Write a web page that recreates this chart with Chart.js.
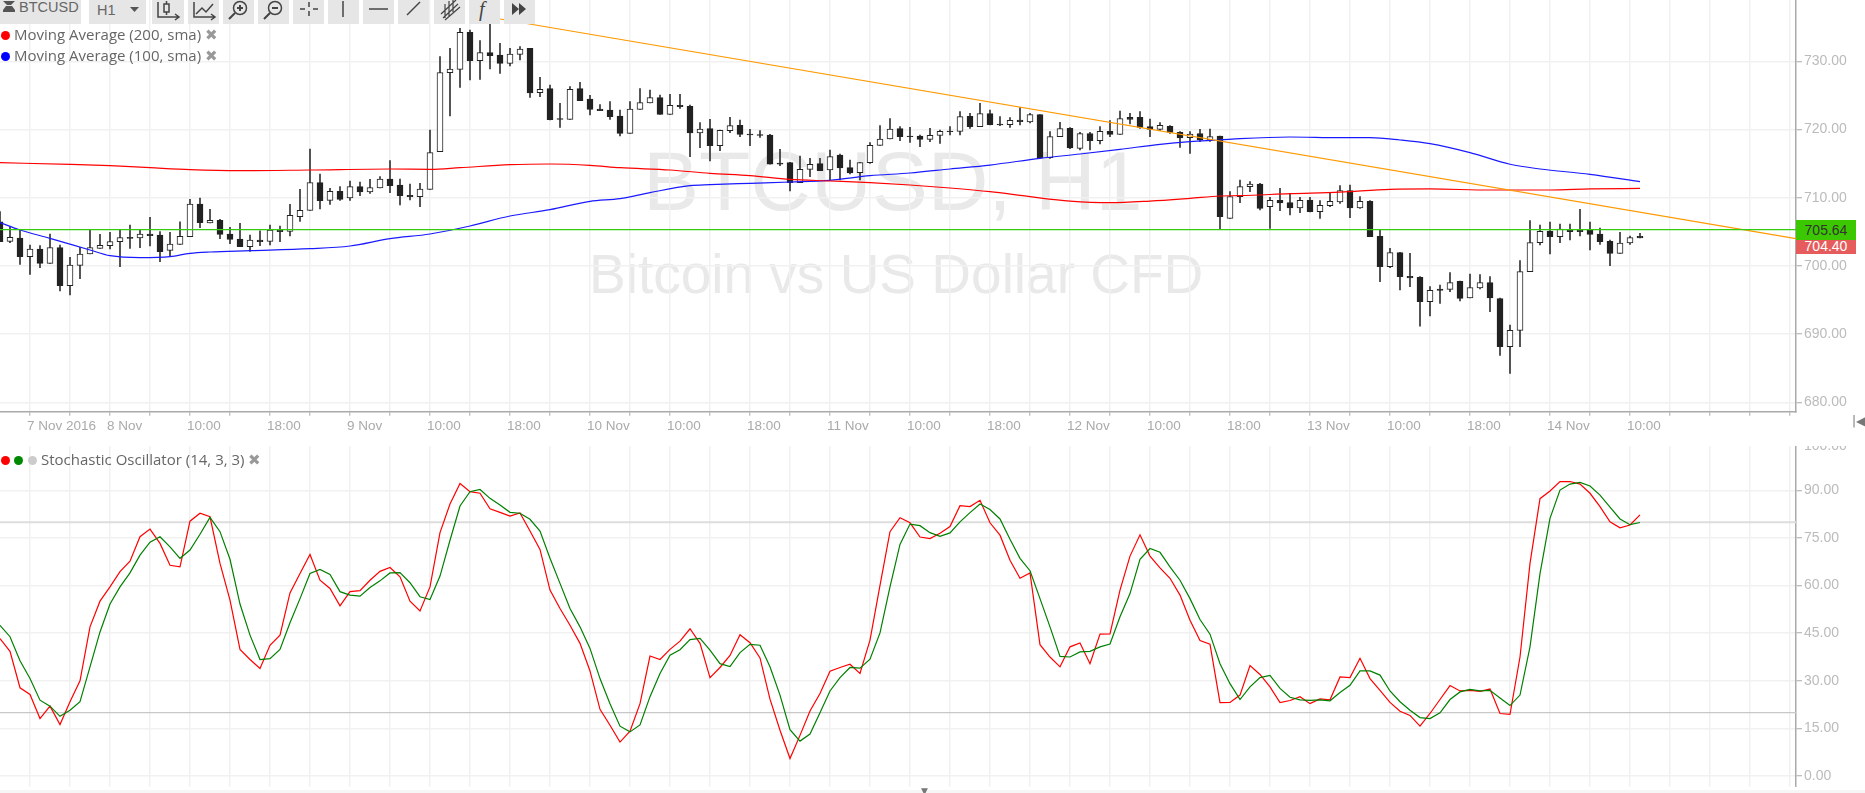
<!DOCTYPE html>
<html>
<head>
<meta charset="utf-8">
<title>BTCUSD, H1</title>
<script src="https://cdn.jsdelivr.net/npm/chart.js@4/dist/chart.umd.min.js"></script>
<style>
  html, body { margin: 0; padding: 0; background: #fff; overflow: hidden; width: 1865px; height: 793px; }
  canvas { position: absolute; left: 0; z-index: 1; }
  #priceChart { top: 0; }
  #stochChart { top: 446px; }
  .abs { position: absolute; white-space: nowrap; }
  .mark { font-family: "Liberation Sans", sans-serif; color: #e9e9e9; z-index: 0; line-height: 1; }
  .tb { position: absolute; top: 0; height: 24px; background: #e6e6e6; z-index: 3; color: #555; }
  .tb svg { position: absolute; left: 0; top: 0; }
  .leg { font-family: "Open Sans", sans-serif; font-size: 15px; color: #666; z-index: 3; line-height: 18px; }
  .dot { position: absolute; width: 9px; height: 9px; border-radius: 50%; z-index: 3; }
  .x { font-family: "DejaVu Sans", sans-serif; font-weight: bold; font-size: 15px; color: #999; z-index: 3; line-height: 14px; }
  .tag { left: 1796px; width: 60px; font-family: "Liberation Sans", sans-serif; font-size: 14px; text-align: center; z-index: 3; }
</style>
</head>
<body>

<div class="abs mark" style="left:643px;top:139px;font-size:84px">BTCUSD, H1</div>
<div class="abs mark" style="left:589px;top:247px;font-size:55px">Bitcoin vs US Dollar CFD</div>

<div class="tb" style="left:0;width:81px"><span class="abs" style="left:19px;top:-1px;font:14.5px 'Liberation Sans';color:#666">BTCUSD</span>
  <svg width="19" height="24"><path d="M3 1h12l-4 4h-4zM3 10h12v2H3zM6 6h6l3 4H3z" fill="#555"/></svg></div>
<div class="tb" style="left:89px;width:57px"><span class="abs" style="left:8px;top:2px;font:14.5px 'Liberation Sans';color:#666">H1</span>
  <svg width="57" height="24"><path d="M41 7h9l-4.5 5z" fill="#555"/></svg></div>
<div class="tb" style="left:152px;width:32px"><svg width="32" height="24" fill="none" stroke="#444" stroke-width="1.5"><path d="M6 2v15h20M23 14l4 3-4 3"/><rect x="12" y="4" width="5" height="8"/><path d="M14.500 1v3M14.500 12v3"/></svg></div>
<div class="tb" style="left:188px;width:31px"><svg width="31" height="24" fill="none" stroke="#444" stroke-width="1.5"><path d="M6 2v15h20M23 14l4 3-4 3M8 14l6-6 4 4 7-8"/></svg></div>
<div class="tb" style="left:223px;width:31px"><svg width="31" height="24" fill="none" stroke="#444" stroke-width="1.5"><circle cx="17" cy="8" r="6.500"/><path d="M12 13l-6 6M14 8h6M17 5v6" stroke-width="2"/></svg></div>
<div class="tb" style="left:258px;width:31px"><svg width="31" height="24" fill="none" stroke="#444" stroke-width="1.5"><circle cx="17" cy="8" r="6.500"/><path d="M12 13l-6 6M14 8h6" stroke-width="2"/></svg></div>
<div class="tb" style="left:293px;width:31px"><svg width="31" height="24" stroke="#444" stroke-width="1.500"><path d="M16 2v5M16 11v5M7 9h5M20 9h5"/></svg></div>
<div class="tb" style="left:328px;width:31px"><svg width="31" height="24" stroke="#444" stroke-width="1.500"><path d="M15 1v16"/></svg></div>
<div class="tb" style="left:363px;width:31px"><svg width="31" height="24" stroke="#444" stroke-width="1.500"><path d="M6 9h19"/></svg></div>
<div class="tb" style="left:398px;width:31px"><svg width="31" height="24" stroke="#444" stroke-width="1.500"><path d="M9 15L22 2"/></svg></div>
<div class="tb" style="left:434px;width:31px"><svg width="31" height="24" fill="none" stroke="#444" stroke-width="1.200"><path d="M7 14L22 0M9 18L24 4M11 20L26 7M11 4v14M15 1v15M19 0v12"/></svg></div>
<div class="tb" style="left:469px;width:31px"><span class="abs" style="left:10px;top:-2px;font:italic 20px 'Liberation Serif';color:#444">f</span></div>
<div class="tb" style="left:504px;width:31px"><svg width="31" height="24" fill="#444"><path d="M8 3l7 6-7 6zM15 3l7 6-7 6z"/></svg></div>

<span class="dot" style="left:1px;top:31px;background:#f00"></span>
<span class="abs leg" style="left:14px;top:25px">Moving Average (200, sma)</span>
<span class="abs x" style="left:205px;top:28px">✖</span>
<span class="dot" style="left:1px;top:52px;background:#00f"></span>
<span class="abs leg" style="left:14px;top:46px">Moving Average (100, sma)</span>
<span class="abs x" style="left:205px;top:49px">✖</span>

<span class="dot" style="left:1px;top:456px;background:#f00"></span>
<span class="dot" style="left:14px;top:456px;background:#080"></span>
<span class="dot" style="left:28px;top:456px;background:#ccc"></span>
<span class="abs leg" style="left:41px;top:450px">Stochastic Oscillator (14, 3, 3)</span>
<span class="abs x" style="left:248px;top:453px">✖</span>

<div class="abs tag" style="top:220px;height:20px;line-height:21px;background:#3cc800;color:#333">705.64</div>
<div class="abs tag" style="top:240px;height:14px;line-height:13px;background:#e65c5c;color:#fff;overflow:hidden">704.40</div>

<div class="abs" style="left:1804px;top:446px;height:5px;overflow:hidden;font:14px/1 'Liberation Sans';color:#bbb;z-index:3"><span style="position:relative;top:-8px">100.00</span></div>
<div class="abs" style="left:1852px;top:414px;font:12px/14px 'DejaVu Sans';color:#777;z-index:3">|◀</div>
<div class="abs" style="left:0;top:790px;width:1865px;height:3px;background:#f6f6f6;z-index:2"></div>
<div class="abs" style="left:921px;top:787px;font:9px/9px 'DejaVu Sans';color:#777;z-index:3">▼</div>

<canvas id="priceChart" width="1865" height="432"></canvas>
<canvas id="stochChart" width="1865" height="341"></canvas>

<script>
// one candle per entry
const high = [707.95,705.75,705.26,703.06,702.97,704.68,703.06,701.25,702.72,705.26,
  704.63,704.92,705.26,706.0,705.26,707.12,705.02,704.92,706.48,709.76,
  709.95,708.29,706.83,705.65,706.24,704.53,705.16,706.0,705.85,709.03,
  711.23,717.14,713.47,711.37,711.62,712.45,712.3,712.69,713.08,715.43,
  712.74,712.01,712.11,719.93,730.68,731.9,734.84,734.59,733.03,735.47,
  732.64,731.9,732.15,731.9,727.65,726.53,723.84,726.28,726.92,725.01,
  723.64,724.08,722.86,724.08,725.99,725.79,725.06,725.16,725.16,723.59,
  721.0,721.49,719.93,721.78,721.39,720.02,719.83,719.29,717.09,715.19,
  716.11,715.77,715.77,717.0,716.41,715.53,715.19,718.07,720.56,721.59,
  720.42,720.32,719.19,720.17,719.93,720.42,722.62,722.37,723.84,722.86,
  721.88,721.74,723.2,722.37,722.18,719.68,721.05,720.27,719.58,719.58,
  720.42,721.3,722.71,722.37,722.62,721.54,721.0,720.56,719.68,719.68,
  720.02,720.07,719.05,710.88,712.59,712.35,712.11,710.05,711.37,710.64,
  710.05,710.05,709.56,710.64,711.76,711.86,710.15,709.56,705.26,702.57,
  701.99,701.84,698.42,696.95,697.2,699.01,697.78,698.81,698.71,698.42,
  695.29,691.33,700.77,706.63,706.0,706.44,706.14,706.14,708.29,706.44,
  705.56,703.8,704.92,704.38,704.77];
const low = [703.55,703.4,700.23,698.76,699.74,700.38,696.32,695.73,698.13,701.74,
  702.57,702.48,699.89,702.57,702.67,702.92,700.62,701.45,703.16,704.29,
  705.6,706.29,704.0,703.26,702.82,702.13,702.97,703.06,703.55,704.38,
  706.53,708.15,708.34,709.03,709.61,709.61,710.3,710.64,711.42,710.74,
  708.93,709.66,708.68,711.23,716.75,721.98,726.18,727.26,727.36,728.87,
  728.24,729.31,730.19,724.72,724.81,721.39,720.32,721.49,724.23,722.13,
  722.76,721.49,719.05,719.44,722.96,723.89,722.22,722.22,723.1,716.02,
  717.34,715.38,716.9,719.54,718.95,717.63,718.85,714.9,714.7,710.98,
  712.2,713.08,713.96,712.59,712.59,713.47,712.59,715.04,717.68,718.61,
  718.36,718.12,717.48,718.22,717.97,719.19,719.19,720.17,720.42,720.66,
  720.56,720.32,720.66,720.95,715.77,715.77,718.95,717.19,717.0,717.0,
  717.87,718.95,719.29,720.81,720.17,718.95,719.83,719.44,717.38,716.5,
  718.22,718.27,705.36,706.97,709.27,710.88,708.2,705.51,708.1,707.46,
  707.8,707.9,706.97,708.68,709.17,707.07,708.44,704.29,697.69,699.74,
  696.46,696.95,691.18,692.65,694.51,696.22,694.85,695.29,696.61,693.29,
  686.88,684.24,688.15,699.15,703.06,701.74,703.41,703.8,704.38,702.33,
  703.16,700.03,701.84,703.16,704.09];
const open = [706.48,703.6,704.09,701.35,702.48,700.38,702.67,697.1,700.08,701.74,
  702.57,702.97,703.55,704.19,704.09,704.68,704.53,702.28,703.16,704.29,
  709.07,706.29,706.68,704.68,703.94,702.82,703.8,703.6,705.26,705.07,
  707.22,708.15,712.2,709.61,710.93,709.95,711.62,710.83,711.42,712.74,
  711.86,710.35,710.15,711.23,716.75,728.33,728.82,734.25,730.09,731.27,
  730.92,729.7,731.02,731.9,725.4,725.99,721.59,721.49,725.99,724.47,
  723.01,722.86,721.98,719.44,722.96,723.89,724.67,722.22,723.54,723.4,
  719.49,720.12,717.63,719.83,720.61,719.34,719.24,719.19,715.09,715.14,
  712.2,714.16,714.99,714.06,716.26,714.4,713.67,715.14,717.68,718.61,
  720.12,719.05,719.05,718.56,719.14,719.78,719.73,721.93,720.42,722.32,
  720.81,720.71,721.39,721.1,722.18,715.87,718.95,720.17,717.24,719.39,
  718.36,719.73,719.29,721.78,721.78,720.42,720.02,720.46,719.58,718.8,
  719.39,718.46,719.05,706.97,710.15,711.62,712.01,708.68,709.61,709.27,
  708.49,709.66,707.95,708.83,709.37,711.03,708.49,709.47,704.33,699.89,
  701.94,698.47,698.32,694.75,696.61,696.56,697.73,695.29,696.76,697.54,
  695.19,688.15,690.55,699.15,703.41,705.12,704.29,705.31,705.21,705.26,
  704.68,703.6,701.84,703.36,704.33];
const close = [703.55,704.19,701.35,702.48,700.38,702.67,697.1,700.13,701.74,702.67,
  703.01,703.55,704.14,704.04,704.68,704.43,702.08,703.21,704.33,709.07,
  706.34,706.68,704.63,703.9,702.82,703.8,703.55,705.26,705.02,707.41,
  708.15,712.2,709.56,710.93,709.76,711.62,710.83,711.47,712.74,711.76,
  710.3,710.15,711.28,716.6,728.33,728.87,734.25,730.09,731.27,730.83,
  729.7,731.07,731.8,725.35,725.89,721.44,721.49,725.89,724.23,722.96,
  722.76,721.88,719.44,723.01,723.93,724.67,722.22,723.54,723.35,719.49,
  720.07,717.63,719.88,720.56,719.29,719.19,719.14,714.9,714.9,712.2,
  714.16,714.9,713.96,716.02,714.35,713.62,715.14,717.68,718.61,720.07,
  718.95,718.95,718.56,719.14,719.73,719.68,721.88,720.42,722.32,720.71,
  720.66,721.34,721.15,722.18,715.87,718.95,720.12,717.29,719.39,718.36,
  719.73,719.29,721.59,721.49,720.32,720.02,720.61,719.58,718.75,719.34,
  718.46,718.95,707.22,710.15,711.62,712.01,708.44,709.61,709.22,708.49,
  709.61,707.95,708.88,709.47,711.03,708.49,709.47,704.29,699.89,701.94,
  698.42,698.22,694.75,696.42,696.42,697.54,695.24,696.81,697.54,695.29,
  688.15,690.55,699.15,703.41,705.07,704.29,705.41,705.02,705.02,704.63,
  703.55,701.84,703.36,704.14,704.09];

const ma200Index = [0,7,11,15,19,24,31,39,43,46,51,55,59,62,67,71,75,79,83,87,91,95,99,103,107,111,115,119,122,124,129,134,139,143,149,155,159,164];
const ma200 = [715.13,714.89,714.7,714.4,714.11,713.96,714.06,714.21,714.16,714.4,714.84,714.94,714.75,714.4,714.06,713.57,713.23,712.69,712.45,712.2,711.86,711.42,710.88,710.15,709.51,709.27,709.51,709.91,710.25,710.3,710.59,710.83,711.23,711.28,711.13,711.13,711.28,711.37];
const ma100Index = [0,2,5,9,11,14,17,19,21,25,31,35,39,43,47,51,55,59,62,65,69,71,75,79,83,87,91,95,99,104,108,112,116,119,122,124,129,134,137,140,143,147,151,154,159,164];
const ma100 = [706.34,705.26,704.04,702.33,701.5,701.21,701.35,701.84,702.04,702.23,702.52,702.92,704.0,704.68,705.85,707.32,708.24,709.47,709.86,710.74,711.76,711.91,712.11,712.3,712.55,713.23,713.62,714.21,714.79,715.77,716.41,717.09,717.83,718.22,718.46,718.66,718.9,718.8,718.8,718.46,717.92,716.6,714.9,714.21,713.43,712.35];

const trendIndex = [50, 179.6];
const trendPrice = [736.2, 704.0];
const supportPrice = 705.31;

const stochK = [43.3,39.3,27.8,25.7,18.1,22.0,16.2,23.4,30.0,47.0,55.1,59.6,64.4,67.7,75.4,77.8,73.3,66.4,65.9,80.3,
  82.8,81.7,67.0,55.4,39.9,36.7,33.9,41.2,44.4,57.7,63.8,69.8,61.7,59.1,53.6,58.1,58.4,61.7,64.5,65.7,
  62.8,55.1,52.0,59.6,76.7,85.7,92.2,89.6,89.1,84.2,83.1,81.9,82.9,77.2,71.4,58.6,52.8,47.5,41.8,33.1,
  21.0,16.0,10.7,14.1,22.8,37.8,36.7,39.9,42.5,46.4,41.8,31.0,34.2,38.0,44.5,42.0,37.2,24.2,14.4,5.5,
  12.8,20.5,26.0,33.0,34.2,35.2,32.3,42.8,60.1,77.0,81.4,79.8,75.3,74.8,76.5,78.6,85.2,84.9,86.9,79.8,
  75.9,68.0,62.3,64.0,41.4,37.5,34.4,40.7,41.9,35.4,44.7,44.8,58.6,69.3,76.0,69.3,65.6,62.3,57.0,49.1,
  42.7,41.5,23.1,23.2,25.5,34.8,32.0,28.1,23.1,23.8,25.0,22.8,24.3,24.0,31.2,31.0,37.1,30.7,27.0,23.2,
  20.4,19.1,15.7,19.7,24.1,28.5,26.8,27.0,26.7,27.4,19.7,19.4,37.5,67.0,87.4,89.8,92.8,92.8,92.0,89.1,
  84.9,80.1,78.2,79.1,82.3];
const stochD = [47.5,43.9,36.3,30.7,23.9,22.0,18.8,20.7,23.4,34.4,45.4,54.2,59.6,64.0,69.6,73.7,75.4,72.2,68.6,71.2,
  76.2,81.5,77.0,68.3,54.2,44.4,36.7,37.0,39.9,48.3,55.9,63.8,65.1,63.5,58.1,57.0,56.7,59.4,61.5,64.0,
  64.1,60.9,56.5,55.6,63.0,74.3,85.1,89.6,90.3,87.5,85.4,83.1,82.8,80.9,77.2,68.6,60.7,52.8,47.0,40.2,
  30.7,22.8,15.7,13.9,16.1,25.0,32.3,38.1,39.8,43.0,43.4,39.7,35.4,34.5,38.9,41.5,41.2,34.4,25.5,14.6,
  11.0,13.2,19.9,26.8,31.0,34.2,34.0,36.8,45.1,59.6,73.0,79.4,78.9,76.7,75.5,76.6,80.1,83.0,85.7,84.0,
  81.0,74.6,68.6,64.7,55.9,47.0,37.7,37.5,39.1,39.3,40.7,41.6,50.2,57.5,68.3,71.7,70.5,65.9,61.7,55.9,
  49.3,44.7,35.4,29.1,24.1,28.1,31.0,31.7,27.6,24.8,24.0,23.8,24.0,23.7,26.3,28.6,33.1,33.1,31.8,26.8,
  23.4,20.7,18.4,18.1,19.9,24.1,26.5,27.3,26.8,27.0,24.6,22.2,25.5,40.7,63.8,81.2,90.1,92.0,92.5,91.4,
  88.5,84.7,81.0,79.2,79.9];
const stochLevels = [80, 20];

const gridIndex = [3,7,11,15,19,23,27,31,35,39,43,47,51,55,59,63,67,71,75,79,83,87,91,95,99,103,107,111,115,119,123,127,131,135,139,143,147,151,155,159,163,167,171,175,179];
const labelIndex = [3,11,19,27,35,43,51,59,67,75,83,91,99,107,115,123,131,139,147,155,163];
const labelText = ['7 Nov 2016','8 Nov','10:00','18:00','9 Nov','10:00','18:00','10 Nov','10:00','18:00','11 Nov','10:00','18:00','12 Nov','10:00','18:00','13 Nov','10:00','18:00','14 Nov','10:00'];

const GRID = '#f1f1f1';
const AXIS = '#aaaaaa';
const CANDLE = '#222222';
const X_MAX = 179.6;

const pts = (xs, ys) => xs.map((x, i) => ({ x, y: ys[i] }));
const idx = close.map((_, i) => i);

// the axes reserve room for half a label at each end, drop that so the plot fills the canvas
const noPadding = (scale) => {
  scale.paddingTop = 0;
  scale.paddingBottom = 0;
  scale.paddingLeft = 0;
  scale.paddingRight = 0;
};

const xScale = (showLabels) => ({
  type: 'linear',
  min: 0,
  max: X_MAX,
  offset: false,
  afterBuildTicks: (scale) => { scale.ticks = gridIndex.map(value => ({ value })); },
  afterFit: (scale) => { scale.height = showLabels ? 20.3 : 0; noPadding(scale); },
  grid: { color: GRID, lineWidth: 1.5, offset: false, drawTicks: showLabels, tickLength: 4, tickColor: AXIS, tickWidth: 1 },
  border: { display: showLabels, color: AXIS, width: 1.5 },
  ticks: {
    display: showLabels,
    autoSkip: false,
    maxRotation: 0,
    align: 'start',
    labelOffset: -3,
    padding: 2,
    color: '#aaaaaa',
    font: { family: 'Liberation Sans', size: 13.5 },
    callback: (v) => { const k = labelIndex.indexOf(v); return k >= 0 ? labelText[k] : ''; }
  }
});

const yScale = (min, max, step) => ({
  position: 'right',
  min,
  max,
  afterFit: (scale) => { scale.width = 1865 - 1796; noPadding(scale); },
  grid: { color: GRID, lineWidth: 1.5, tickLength: 6, tickColor: AXIS, tickWidth: 1 },
  border: { color: AXIS, width: 1.5 },
  ticks: {
    stepSize: step,
    includeBounds: false,
    padding: 2,
    color: '#bbbbbb',
    font: { family: 'Liberation Sans', size: 14 },
    callback: (v) => v.toFixed(2)
  }
});

const baseOptions = {
  responsive: false,
  animation: false,
  devicePixelRatio: 1,
  layout: { padding: 0 },
  plugins: { legend: { display: false }, tooltip: { enabled: false } }
};

const thinLine = (data, color, width, order, extra) => Object.assign({
  type: 'line', data, borderColor: color, borderWidth: width, pointRadius: 0, order
}, extra);

new Chart(document.getElementById('priceChart'), {
  type: 'bar',
  data: {
    datasets: [
      thinLine(pts(trendIndex, trendPrice), '#ff9900', 1.2, 1),
      thinLine(pts([0, X_MAX], [supportPrice, supportPrice]), '#33cc11', 1.2, 0),
      thinLine(pts(ma200Index, ma200), '#ff0000', 1.2, 2, { cubicInterpolationMode: 'monotone' }),
      thinLine(pts(ma100Index, ma100), '#1a1aff', 1.2, 3, { cubicInterpolationMode: 'monotone' }),
      {
        label: 'wick',
        data: idx.map(i => ({ x: i, y: [low[i], high[i]] })),
        backgroundColor: '#333333',
        barThickness: 1,
        grouped: false,
        order: 5
      },
      {
        label: 'body',
        data: idx.map(i => ({ x: i, y: [open[i], close[i]] })),
        backgroundColor: (ctx) => close[ctx.dataIndex] >= open[ctx.dataIndex] ? '#ffffff' : CANDLE,
        borderColor: CANDLE,
        borderWidth: 1,
        borderSkipped: false,
        barThickness: 6,
        grouped: false,
        order: 4
      }
    ]
  },
  options: Object.assign({}, baseOptions, {
    scales: { x: xScale(true), y: yScale(678.62, 738.99, 10) }
  })
});

new Chart(document.getElementById('stochChart'), {
  type: 'line',
  data: {
    datasets: [
      thinLine(pts(idx, stochD), '#008000', 1.2, 0),
      thinLine(pts(idx, stochK), '#ff0000', 1.2, 1),
      thinLine(pts([0, X_MAX], [stochLevels[0], stochLevels[0]]), '#dddddd', 2, 2),
      thinLine(pts([0, X_MAX], [stochLevels[1], stochLevels[1]]), '#c8c8c8', 1.2, 3)
    ]
  },
  options: Object.assign({}, baseOptions, {
    scales: { x: xScale(false), y: yScale(-3.47, 104, 15) }
  })
});
</script>
</body>
</html>
